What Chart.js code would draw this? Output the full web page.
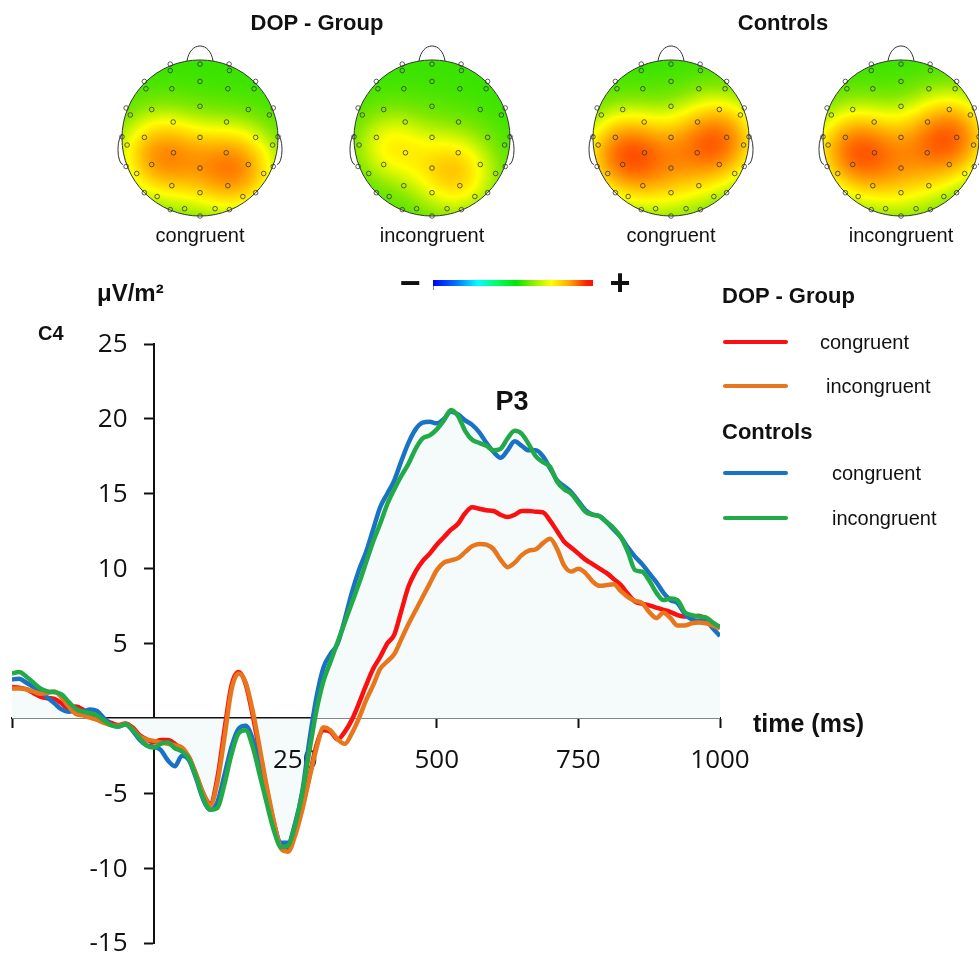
<!DOCTYPE html>
<html>
<head>
<meta charset="utf-8">
<script src="https://cdn.jsdelivr.net/npm/chart.js@4.4.0/dist/chart.umd.min.js"></script>
<style>
html, body { margin: 0; padding: 0; background: #fff; overflow: hidden; }
#wrap { position: relative; width: 979px; height: 954px; overflow: hidden; font-family: "Liberation Sans", Arial, sans-serif; color: #111; }
#main { position: absolute; left: 0; top: 0; }
.head { position: absolute; top: 38px; width: 200px; height: 200px; }
.t { position: absolute; white-space: nowrap; line-height: 30px; height: 30px; }
.b { font-weight: bold; }
.c { transform: translateX(-50%); }
.sw { position: absolute; left: 723px; width: 65px; height: 4px; border-radius: 2px; }
#cbar { position: absolute; left: 433px; top: 280px; width: 160px; height: 6px;
  background: linear-gradient(to right, #0000ff 0%, #0070ff 14%, #00ffff 28%, #00ff60 40%, #00e600 52%, #9cf000 64%, #ffff00 74%, #ffaa00 85%, #ff2000 96%, #ff1000 100%); }
#cbar:after { content: ""; position: absolute; left: 0; top: 6px; width: 1px; height: 4px; background: #888; }
</style>
</head>
<body>
<div id="wrap">
  <canvas id="main" width="979" height="954"></canvas>
  <canvas id="h0" class="head" width="200" height="200" style="left:100px"></canvas>
  <canvas id="h1" class="head" width="200" height="200" style="left:332px"></canvas>
  <canvas id="h2" class="head" width="200" height="200" style="left:571px"></canvas>
  <canvas id="h3" class="head" width="200" height="200" style="left:801px"></canvas>

  <div class="t b c" style="left:317px; top:8px; font-size:22px;">DOP - Group</div>
  <div class="t b c" style="left:783px; top:8px; font-size:22px;">Controls</div>
  <div class="t c" style="left:200px; top:220px; font-size:20px;">congruent</div>
  <div class="t c" style="left:432px; top:220px; font-size:20px;">incongruent</div>
  <div class="t c" style="left:671px; top:220px; font-size:20px;">congruent</div>
  <div class="t c" style="left:901px; top:220px; font-size:20px;">incongruent</div>

  <div class="t b c" style="left:410px; top:268px; font-size:36px;">−</div>
  <div id="cbar"></div>
  <div class="t b c" style="left:620px; top:268px; font-size:36px;">+</div>

  <div class="t b" style="left:97px; top:278px; font-size:24px;">μV/m²</div>
  <div class="t b" style="left:38px; top:318px; font-size:20px;">C4</div>
  <div class="t b c" style="left:512px; top:386px; font-size:27px;">P3</div>
  <div class="t b" style="left:753px; top:708px; font-size:25px;">time (ms)</div>

  <div class="t b" style="left:722px; top:281px; font-size:22px;">DOP - Group</div>
  <div class="sw" style="top:340px; background:#fa1010;"></div>
  <div class="t" style="left:820px; top:327px; font-size:20px;">congruent</div>
  <div class="sw" style="top:384px; background:#e8761c;"></div>
  <div class="t" style="left:826px; top:371px; font-size:20px;">incongruent</div>
  <div class="t b" style="left:722px; top:417px; font-size:22px;">Controls</div>
  <div class="sw" style="top:471px; background:#1a72c4;"></div>
  <div class="t" style="left:832px; top:458px; font-size:20px;">congruent</div>
  <div class="sw" style="top:516px; background:#22aa48;"></div>
  <div class="t" style="left:832px; top:503px; font-size:20px;">incongruent</div>
</div>

<script>
// time points (ms) of the C4 waveforms
const times = [
  -250, -237.5, -225, -212.5, -200, -187.5, -175, -162.5, -150, -137.5,
  -125, -112.5, -100, -87.5, -75, -62.5, -50, -37.5, -25, -12.5,
  0, 12.5, 25, 37.5, 50, 62.5, 75, 87.5, 100, 112.5,
  125, 137.5, 150, 162.5, 175, 187.5, 200, 212.5, 225, 237.5,
  250, 262.5, 275, 287.5, 300, 312.5, 325, 337.5, 350, 362.5,
  375, 387.5, 400, 412.5, 425, 437.5, 450, 462.5, 475, 487.5,
  500, 512.5, 525, 537.5, 550, 562.5, 575, 587.5, 600, 612.5,
  625, 637.5, 650, 662.5, 675, 687.5, 700, 712.5, 725, 737.5,
  750, 762.5, 775, 787.5, 800, 812.5, 825, 837.5, 850, 862.5,
  875, 887.5, 900, 912.5, 925, 937.5, 950, 962.5, 975, 987.5, 1000
];

// DOP - Group, congruent (µV/m²)
const dopCongruent = [
  2.1, 2.05, 1.95, 1.7, 1.45, 1.35, 1.3, 1.0, 0.65, 0.8,
  0.6, 0.2, 0.1, -0.1, -0.3, -0.45, -0.35, -0.6, -1.1, -1.4,
  -1.6, -1.45, -1.45, -1.7, -2.1, -2.6, -3.8, -5.0, -5.7, -4.0,
  -0.8, 2.2, 3.1, 2.3, 0.2, -2.3, -4.8, -7.0, -8.6, -8.7,
  -7.6, -5.9, -3.9, -1.8, -0.8, -0.9, -1.4, -0.9, -0.1, 1.0,
  2.2, 3.3, 4.1, 5.0, 5.6, 7.2, 8.8, 9.8, 10.5, 11.0,
  11.6, 12.1, 12.6, 13.0, 13.7, 14.1, 14.0, 13.9, 13.85, 13.6,
  13.45, 13.6, 13.85, 13.85, 13.8, 13.75, 13.2, 12.5, 11.8, 11.4,
  11.0, 10.6, 10.3, 10.0, 9.7, 9.3, 8.9, 8.3, 7.8, 7.65,
  7.55, 7.4, 7.25, 7.1, 6.9, 6.8, 6.8, 6.85, 6.6, 6.3, 6.1
];

// DOP - Group, incongruent
const dopIncongruent = [
  2.0, 2.0, 1.95, 1.8, 1.65, 1.7, 1.8, 1.4, 0.8, 0.3,
  0.2, 0.05, -0.1, -0.3, -0.45, -0.5, -0.4, -0.7, -1.2, -1.4,
  -1.5, -1.6, -1.7, -1.8, -1.95, -2.6, -3.7, -5.0, -5.8, -4.3,
  -1.3, 1.9, 3.0, 2.4, 0.5, -2.0, -4.6, -6.9, -8.7, -8.9,
  -7.8, -6.1, -4.0, -2.0, -0.6, -0.8, -1.4, -1.7, -1.0, 0.0,
  1.2, 2.2, 3.3, 3.8, 4.3, 5.3, 6.3, 7.2, 8.1, 9.0,
  9.9, 10.4, 10.55, 10.7, 11.1, 11.5, 11.65, 11.6, 11.3, 10.6,
  10.1, 10.4, 10.9, 11.2, 11.3, 11.7, 12.0, 11.3, 10.2, 9.8,
  10.0, 9.7, 9.15, 8.85, 8.9, 8.95, 8.5, 8.1, 7.85, 7.7,
  7.1, 6.7, 7.05, 6.7, 6.2, 6.2, 6.35, 6.4, 6.35, 6.2, 6.0
];

// Controls, congruent
const ctrlCongruent = [
  2.6, 2.65, 2.4, 2.1, 1.8, 1.4, 1.0, 0.6, 0.45, 0.5,
  0.45, 0.6, 0.5, 0.0, -0.4, -0.55, -0.4, -0.8, -1.4, -1.8,
  -1.9, -2.1, -2.8, -3.2, -2.5, -2.8, -4.0, -5.4, -6.1, -5.6,
  -3.8, -1.9, -0.7, -0.5, -1.4, -3.2, -5.2, -7.1, -8.3, -8.3,
  -7.0, -4.9, -1.5, 1.4, 3.4, 4.3, 5.0, 6.6, 8.4, 9.9,
  11.1, 12.6, 14.1, 15.0, 15.9, 17.2, 18.4, 19.3, 19.75, 19.8,
  19.7, 20.0, 20.5, 20.3, 19.9, 19.6, 19.1, 18.4, 17.8, 17.4,
  17.9, 18.5, 18.2, 17.9, 17.9, 17.5, 16.7, 15.9, 15.5, 15.1,
  14.5, 13.9, 13.6, 13.5, 13.1, 12.6, 12.1, 11.4, 10.8, 10.3,
  9.7, 9.1, 8.4, 7.9, 7.7, 7.0, 6.6, 6.5, 6.5, 6.0, 5.5
];

// Controls, incongruent
const ctrlIncongruent = [
  3.0, 3.1, 2.8, 2.4, 2.0, 1.8, 1.75, 1.6, 1.1, 0.65,
  0.45, 0.35, 0.2, -0.15, -0.45, -0.55, -0.4, -0.75, -1.3, -1.8,
  -1.95, -1.7, -1.6, -2.0, -2.2, -2.7, -3.9, -5.3, -6.1, -6.0,
  -4.4, -2.4, -1.0, -0.8, -1.9, -3.8, -5.7, -7.5, -8.6, -8.5,
  -7.1, -5.0, -2.2, 0.5, 2.5, 3.8, 5.1, 6.4, 7.7, 9.0,
  10.4, 11.8, 13.0, 14.3, 15.3, 16.2, 17.0, 18.0, 18.7, 18.9,
  19.3, 19.9, 20.6, 20.2, 19.2, 18.6, 18.4, 18.2, 17.9, 18.0,
  18.7, 19.2, 19.0, 18.3, 17.5, 17.1, 16.8, 15.8, 15.3, 15.0,
  14.4, 13.8, 13.6, 13.5, 13.1, 12.7, 12.1, 11.1, 9.9, 9.8,
  9.2, 8.4, 7.9, 8.0, 7.9, 7.1, 6.9, 6.8, 6.75, 6.4, 6.1
];

const xTicks = [-250, 0, 250, 500, 750, 1000];
const yTicks = [-15, -10, -5, 0, 5, 10, 15, 20, 25];

// electrode positions on the unit head (x right, y nose)
const elecX = [0, -0.381, 0.373, -0.381, 0.377, 0, -0.713, 0.713, -0.693, -0.361, 0.357, 0.693,
  0, -0.947, -0.619, 0.619, 0.939, -0.893, 0.889, -0.344, 0.340, -1.0, -0.713, 0, 0.713, 1.0,
  -0.934, 0.930, -0.340, 0.336, -0.947, -0.619, 0, 0.619, 0.939, -0.811, 0.816, -0.361, 0.357,
  0, -0.713, 0.713, -0.549, 0.549, -0.381, 0.377, -0.197, 0.193, 0];
const elecY = [0.947, 0.947, 0.947, 0.865, 0.865, 0.725, 0.725, 0.725, 0.631, 0.631, 0.631, 0.631,
  0.406, 0.385, 0.365, 0.365, 0.385, 0.295, 0.295, 0.205, 0.205, 0.016, 0.008, 0.008, 0.008, 0.016,
  -0.09, -0.09, -0.189, -0.189, -0.365, -0.34, -0.385, -0.34, -0.365, -0.455, -0.455, -0.611, -0.611,
  -0.701, -0.701, -0.701, -0.75, -0.75, -0.918, -0.918, -0.906, -0.906, -1.0];

// topographic maps: [x, y, amplitude, width] of the activity blobs per map
const mapBase = 0.55;
const mapDopCong = [[-0.52, -0.22, 0.27, 0.4], [0.45, -0.38, 0.28, 0.4], [0, -0.45, 0.05, 0.5]];
const mapDopIncong = [[-0.55, -0.1, 0.15, 0.35], [0.3, -0.45, 0.2, 0.38], [0, -0.25, 0.04, 0.5]];
const mapCtrlCong = [[-0.6, -0.2, 0.32, 0.4], [0.6, -0.02, 0.32, 0.4], [0, -0.45, 0.15, 0.45]];
const mapCtrlIncong = [[-0.6, -0.15, 0.31, 0.4], [0.62, 0.02, 0.33, 0.4], [0, -0.45, 0.16, 0.45]];

// colour scale of the maps (jet-like)
const jetStops = [[0, 0, 0, 255], [0.3, 0, 255, 255], [0.5, 0, 225, 0], [0.62, 130, 232, 0],
  [0.72, 255, 255, 0], [0.85, 255, 150, 0], [1, 255, 30, 0]];

function jet(v) {
  if (v <= jetStops[0][0]) return jetStops[0].slice(1);
  for (let i = 1; i < jetStops.length; i++) {
    const a = jetStops[i - 1], b = jetStops[i];
    if (v <= b[0]) {
      const f = (v - a[0]) / (b[0] - a[0]);
      return [a[1] + (b[1] - a[1]) * f, a[2] + (b[2] - a[2]) * f, a[3] + (b[3] - a[3]) * f];
    }
  }
  return jetStops[jetStops.length - 1].slice(1);
}

// paints the scalp map, outline, nose and ears below the electrodes
const headPlugin = {
  id: 'headPlugin',
  beforeDatasetsDraw(chart, args, opts) {
    const { ctx, scales: { x, y } } = chart;
    const cx = x.getPixelForValue(0), cy = y.getPixelForValue(0);
    const r = x.getPixelForValue(1) - cx;
    const size = Math.ceil(2 * r) + 2;
    const off = document.createElement('canvas');
    off.width = size; off.height = size;
    const octx = off.getContext('2d');
    const img = octx.createImageData(size, size);
    for (let j = 0; j < size; j++) {
      for (let i = 0; i < size; i++) {
        const nx = (i - size / 2) / r, ny = -(j - size / 2) / r;
        let v = mapBase;
        opts.blobs.forEach(s => {
          const d2 = (nx - s[0]) ** 2 + (ny - s[1]) ** 2;
          v += s[2] * Math.exp(-d2 / (2 * s[3] * s[3]));
        });
        const c = jet(v);
        const k = (j * size + i) * 4;
        img.data[k] = c[0]; img.data[k + 1] = c[1]; img.data[k + 2] = c[2]; img.data[k + 3] = 255;
      }
    }
    octx.putImageData(img, 0, 0);

    ctx.save();
    ctx.beginPath();
    ctx.arc(cx, cy, r, 0, Math.PI * 2);
    ctx.clip();
    ctx.drawImage(off, cx - size / 2, cy - size / 2);
    ctx.restore();

    ctx.save();
    ctx.strokeStyle = '#333';
    ctx.lineWidth = 1;
    ctx.beginPath();
    ctx.arc(cx, cy, r, 0, Math.PI * 2);
    ctx.stroke();
    // nose
    const top = cy - r + 1;
    ctx.beginPath();
    ctx.moveTo(cx - 13, top);
    ctx.bezierCurveTo(cx - 10, top - 20, cx + 10, top - 20, cx + 13, top);
    ctx.stroke();
    // ears
    [-1, 1].forEach(side => {
      ctx.beginPath();
      ctx.ellipse(cx + side * (r - 1), cy + 11.5, 5, 15, 0, side < 0 ? Math.PI / 2 : -Math.PI / 2, side < 0 ? Math.PI * 1.5 : Math.PI / 2);
      ctx.stroke();
    });
    ctx.restore();
  }
};

// tick labels of the axes that cross at (0, 0); drawn over the shading, under the curves
const tickLabelPlugin = {
  id: 'tickLabelPlugin',
  beforeDatasetsDraw(chart) {
    const { ctx, scales: { x, y } } = chart;
    const ax = x.getPixelForValue(0);
    const ay = y.getPixelForValue(0);
    ctx.save();
    ctx.font = '26px "Open Sans", sans-serif';
    ctx.fillStyle = '#111';
    ctx.textBaseline = 'middle';
    ctx.textAlign = 'right';
    yTicks.forEach(v => {
      if (v !== 0) ctx.fillText(String(v), ax - 26, y.getPixelForValue(v) + 1);
    });
    ctx.textAlign = 'center';
    xTicks.forEach(v => {
      if (v > 0) ctx.fillText(String(v), x.getPixelForValue(v), ay + 42);
    });
    ctx.restore();
  }
};

function drawHead(id, blobs) {
  new Chart(document.getElementById(id), {
    type: 'scatter',
    data: {
      datasets: [{
        data: elecX.map((v, i) => ({ x: v, y: elecY[i] })),
        pointRadius: 2.3,
        pointBorderWidth: 0.8,
        pointBorderColor: '#333',
        pointBackgroundColor: 'rgba(0,0,0,0)'
      }]
    },
    options: {
      responsive: false,
      animation: false,
      layout: { padding: 0 },
      plugins: { legend: { display: false }, tooltip: { enabled: false }, headPlugin: { blobs: blobs } },
      scales: {
        x: { display: false, min: -1.22, max: 1.22 },
        y: { display: false, min: -1.22, max: 1.22 }
      }
    },
    plugins: [headPlugin]
  });
}

function series(values, color, order, fill) {
  return {
    data: times.map((t, i) => ({ x: t, y: values[i] })),
    borderColor: color,
    borderWidth: 4.5,
    pointRadius: 0,
    cubicInterpolationMode: 'monotone',
    fill: fill ? { target: 'origin', above: '#f5fbfb', below: '#f5fbfb' } : false,
    order: order
  };
}

function noPad(s) {
  s.paddingTop = 0; s.paddingBottom = 0; s.paddingLeft = 0; s.paddingRight = 0;
}

function drawWaves() {
  new Chart(document.getElementById('main'), {
    type: 'line',
    data: {
      datasets: [
        series(ctrlIncongruent, '#22aa48', 1, false),
        series(dopIncongruent, '#e8761c', 2, false),
        series(ctrlCongruent, '#1a72c4', 3, true),
        series(dopCongruent, '#fa1010', 4, false)
      ]
    },
    options: {
      responsive: false,
      animation: false,
      layout: { padding: { left: 12, right: 259, top: 344, bottom: 11 } },
      plugins: { legend: { display: false }, tooltip: { enabled: false }, filler: { drawTime: 'beforeDatasetsDraw' } },
      scales: {
        x: {
          type: 'linear',
          position: { y: 0 },
          min: xTicks[0],
          max: xTicks[xTicks.length - 1],
          afterFit: s => { s.height = 0; noPad(s); },
          afterBuildTicks: s => { s.ticks = xTicks.map(v => ({ value: v })); },
          ticks: { display: false },
          grid: { drawOnChartArea: false, drawTicks: true, tickLength: 9, tickWidth: 2, color: '#111' },
          border: { display: true, color: '#111', width: 2 }
        },
        y: {
          type: 'linear',
          position: { x: 0 },
          min: yTicks[0],
          max: yTicks[yTicks.length - 1],
          afterFit: s => { s.width = 0; noPad(s); },
          afterBuildTicks: s => { s.ticks = yTicks.map(v => ({ value: v })); },
          ticks: { display: false },
          grid: { drawOnChartArea: false, drawTicks: true, tickLength: 9, tickWidth: 2, color: '#111' },
          border: { display: true, color: '#111', width: 2 }
        }
      }
    },
    plugins: [tickLabelPlugin]
  });
}

window.onload = () => {
  drawHead('h0', mapDopCong);
  drawHead('h1', mapDopIncong);
  drawHead('h2', mapCtrlCong);
  drawHead('h3', mapCtrlIncong);
  drawWaves();
};
</script>
</body>
</html>
